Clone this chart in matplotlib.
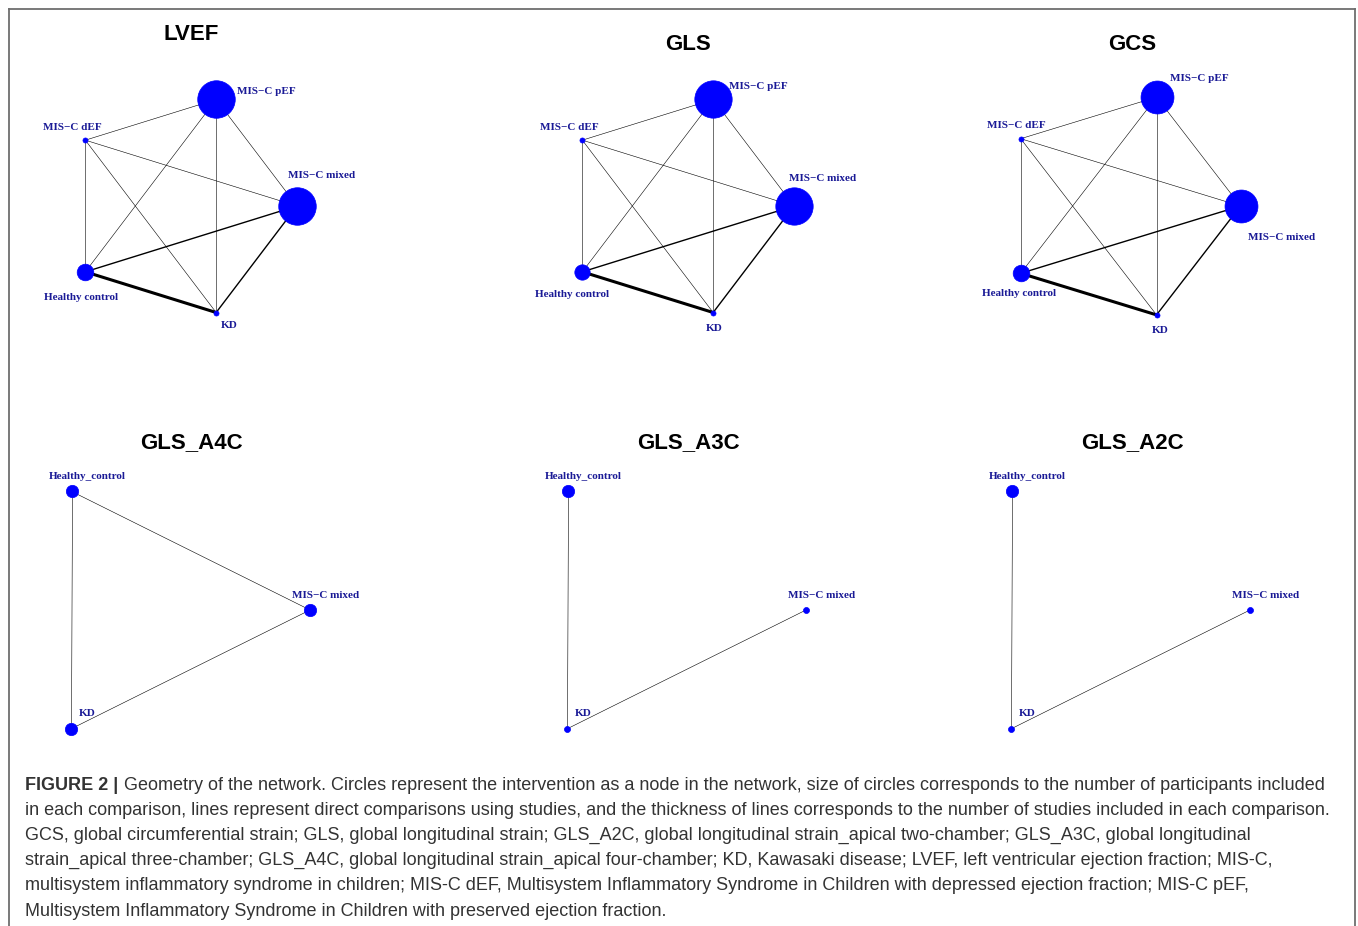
import matplotlib
matplotlib.use("Agg")
import matplotlib.pyplot as plt
import numpy as np

W, H = 1358, 926

# --- network data, one block per outcome ---
# nodes are listed in the order they go round the circle (counter-clockwise from the right)
lvef_treat = ["MIS−C mixed", "MIS−C pEF", "MIS−C dEF", "Healthy control", "KD"]
lvef_participants = [237, 237, 32, 105, 32]
lvef_edges = [("Healthy control", "KD"), ("Healthy control", "MIS−C mixed"), ("MIS−C mixed", "KD"),
              ("MIS−C dEF", "MIS−C pEF"), ("MIS−C dEF", "MIS−C mixed"), ("MIS−C dEF", "Healthy control"),
              ("MIS−C dEF", "KD"), ("MIS−C pEF", "Healthy control"), ("MIS−C pEF", "KD"),
              ("MIS−C pEF", "MIS−C mixed")]
lvef_studies = [4, 2, 2, 1, 1, 1, 1, 1, 1, 1]

gls_treat = lvef_treat
gls_participants = [236, 236, 32, 97, 32]
gls_edges = lvef_edges
gls_studies = [4, 2, 2, 1, 1, 1, 1, 1, 1, 1]

gcs_treat = lvef_treat
gcs_participants = [208, 208, 32, 105, 32]
gcs_edges = lvef_edges
gcs_studies = [4, 2, 2, 1, 1, 1, 1, 1, 1, 1]

apical_treat = ["MIS−C mixed", "Healthy_control", "KD"]
a4c_participants = [78, 78, 78]
a4c_edges = [("Healthy_control", "MIS−C mixed"), ("Healthy_control", "KD"), ("MIS−C mixed", "KD")]
a4c_studies = [1, 1, 1]

a3c_participants = [38, 78, 38]
a3c_edges = [("Healthy_control", "KD"), ("MIS−C mixed", "KD")]
a3c_studies = [1, 1]

a2c_participants = [38, 78, 38]
a2c_edges = [("Healthy_control", "KD"), ("MIS−C mixed", "KD")]
a2c_studies = [1, 1]

caption_bold = "FIGURE 2 |"
caption_lines = [
    "Geometry of the network. Circles represent the intervention as a node in the network, size of circles corresponds to the number of participants included",
    "in each comparison, lines represent direct comparisons using studies, and the thickness of lines corresponds to the number of studies included in each comparison.",
    "GCS, global circumferential strain; GLS, global longitudinal strain; GLS_A2C, global longitudinal strain_apical two-chamber; GLS_A3C, global longitudinal",
    "strain_apical three-chamber; GLS_A4C, global longitudinal strain_apical four-chamber; KD, Kawasaki disease; LVEF, left ventricular ejection fraction; MIS-C,",
    "multisystem inflammatory syndrome in children; MIS-C dEF, Multisystem Inflammatory Syndrome in Children with depressed ejection fraction; MIS-C pEF,",
    "Multisystem Inflammatory Syndrome in Children with preserved ejection fraction.",
]

# node radius in pixels per participant
R_PER_N = 19 / 240
NODE_COLOR = "#0000ff"
LABEL_COLOR = "#1a1a96"

# label offsets (pixels, right / down) from the node centre
top_offsets = {
    "LVEF": {"MIS−C mixed": (25, -31), "MIS−C pEF": (50, -8), "MIS−C dEF": (-13, -13),
             "Healthy control": (-4, 26), "KD": (13, 13)},
    "GLS": {"MIS−C mixed": (29, -28), "MIS−C pEF": (45, -13), "MIS−C dEF": (-13, -13),
            "Healthy control": (-10, 23), "KD": (1, 16)},
    "GCS": {"MIS−C mixed": (41, 32), "MIS−C pEF": (43, -19), "MIS−C dEF": (-4, -13),
            "Healthy control": (-2, 20), "KD": (4, 16)},
}
apical_offsets = {"MIS−C mixed": (16, -15), "Healthy_control": (16, -15), "KD": (16, -15)}

fig = plt.figure(figsize=(W / 100, H / 100), dpi=100)


def fx(x):
    return x / W


def fy(y):
    return 1 - y / H


def edge_width(k):
    # line width grows with the number of studies behind a comparison
    return 0.4 + 0.6 * (k - 1)


def draw_network(title, title_xy, treats, participants, edges, studies, center, radii, offsets):
    cx, cy = center
    rx, ry = radii
    ax = fig.add_axes([fx(cx - 1.6 * rx), fy(cy + 1.6 * ry), 3.2 * rx / W, 3.2 * ry / H])
    ax.set_xlim(-1.6, 1.6)
    ax.set_ylim(-1.6, 1.6)
    ax.axis("off")

    ang = 2 * np.pi * np.arange(len(treats)) / len(treats)
    pos = {t: (np.cos(a), np.sin(a)) for t, a in zip(treats, ang)}

    for (a, b), k in zip(edges, studies):
        ax.plot([pos[a][0], pos[b][0]], [pos[a][1], pos[b][1]], color="black",
                lw=edge_width(k), zorder=1, solid_capstyle="butt", clip_on=False)

    for t, n in zip(treats, participants):
        ms = 2 * n * R_PER_N * 0.72
        ax.plot(pos[t][0], pos[t][1], "o", ms=ms, color=NODE_COLOR, mec=NODE_COLOR,
                mew=0.5, zorder=2, clip_on=False)
        dx, dy = offsets[t]
        ax.annotate(t, pos[t], xytext=(dx, -dy), textcoords="offset pixels",
                    ha="center", va="center", fontsize=8, fontweight="bold",
                    family="Liberation Serif", color=LABEL_COLOR)

    fig.text(fx(title_xy[0]), fy(title_xy[1]), title, ha="center", va="center",
             fontsize=16, fontweight="bold", family="Liberation Sans", color="black")


draw_network("LVEF", (191, 35), lvef_treat, lvef_participants, lvef_edges, lvef_studies,
             (180, 206), (117, 112), top_offsets["LVEF"])
draw_network("GLS", (688, 44), gls_treat, gls_participants, gls_edges, gls_studies,
             (677, 206), (117, 112), top_offsets["GLS"])
draw_network("GCS", (1132, 44), gcs_treat, gcs_participants, gcs_edges, gcs_studies,
             (1119, 206), (121.5, 114.5), top_offsets["GCS"])
draw_network("GLS_A4C", (191, 443), apical_treat, a4c_participants, a4c_edges, a4c_studies,
             (151, 610), (159, 137), apical_offsets)
draw_network("GLS_A3C", (688, 443), apical_treat, a3c_participants, a3c_edges, a3c_studies,
             (647, 610), (159, 137), apical_offsets)
draw_network("GLS_A2C", (1132, 443), apical_treat, a2c_participants, a2c_edges, a2c_studies,
             (1091, 610), (159, 137), apical_offsets)

# frame around the figure (open at the bottom)
frame = dict(color="#6e6e6e", lw=1.3, transform=fig.transFigure)
fig.add_artist(plt.Line2D([fx(8.5), fx(8.5)], [fy(9), 0], **frame))
fig.add_artist(plt.Line2D([fx(8.5), fx(1355)], [fy(9), fy(9)], **frame))
fig.add_artist(plt.Line2D([fx(1355), fx(1355)], [fy(9), 0], **frame))

# caption
cap_size = 13.0
cap_color = "#333333"
baselines = [790, 815, 840, 865, 890, 916]
renderer = fig.canvas.get_renderer()
bold = fig.text(fx(25), fy(baselines[0]), caption_bold, ha="left", va="baseline",
                fontsize=cap_size, fontweight="bold", family="Liberation Sans", color=cap_color)
bw = bold.get_window_extent(renderer).width
for i, (line, yb) in enumerate(zip(caption_lines, baselines)):
    x0 = 25 + bw + 6 if i == 0 else 25
    fig.text(fx(x0), fy(yb), line, ha="left", va="baseline", fontsize=cap_size,
             family="Liberation Sans", color=cap_color)

fig.savefig("out.png", dpi=100)
